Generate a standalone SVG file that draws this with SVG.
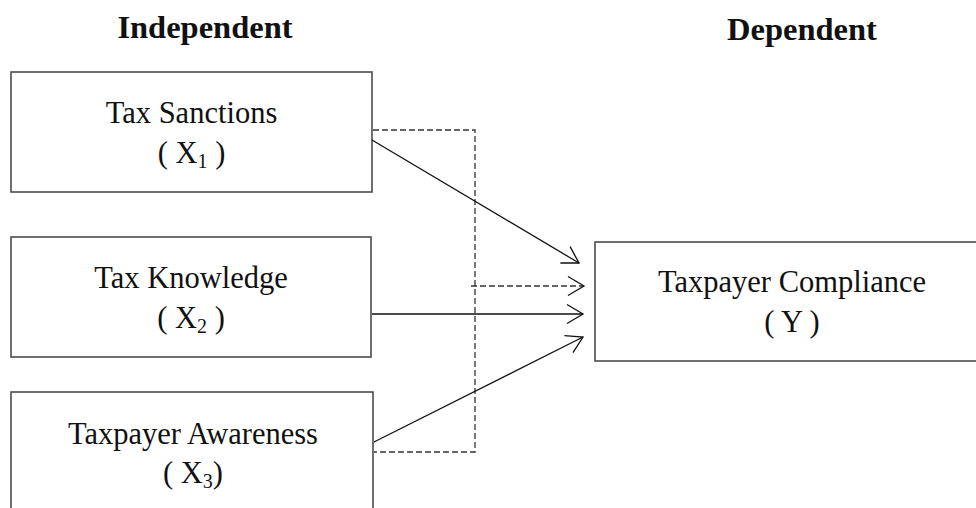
<svg xmlns="http://www.w3.org/2000/svg" width="976" height="508" viewBox="0 0 976 508">
<defs>
<style>
.box{fill:#fff;stroke:#404040;stroke-width:1.5}
.t{font-family:"Liberation Serif","Times New Roman",serif;font-size:30.5px;fill:#111;text-anchor:middle}
.h{font-family:"Liberation Serif","Times New Roman",serif;font-size:32.5px;font-weight:bold;fill:#111;text-anchor:middle}
.sub{font-size:20px}
.ln{fill:none;stroke:#111;stroke-width:1.3}
.dash{fill:none;stroke:#333;stroke-width:1.3;stroke-dasharray:6 3}
</style>
<marker id="arr" markerUnits="userSpaceOnUse" markerWidth="22" markerHeight="24" viewBox="-19 -12 22 24" refX="0" refY="0" orient="auto">
<path d="M-16,-9.5 L0,0 L-16,9.5" fill="none" stroke="#111" stroke-width="1.3"/>
</marker>
</defs>
<rect width="976" height="508" fill="#fff"/>
<text class="h" x="205" y="38">Independent</text>
<text class="h" x="802" y="40">Dependent</text>
<g id="x1">
<rect class="box" x="11" y="72" width="361" height="120"/>
<text class="t" x="191.5" y="123">Tax Sanctions</text>
<text class="t" x="191.5" y="163">( X<tspan class="sub" dy="5">1</tspan><tspan dy="-5"> )</tspan></text>
</g>
<g id="x2">
<rect class="box" x="11" y="237" width="360" height="120"/>
<text class="t" x="191" y="288">Tax Knowledge</text>
<text class="t" x="191" y="328">( X<tspan class="sub" dy="5">2</tspan><tspan dy="-5"> )</tspan></text>
</g>
<g id="x3">
<rect class="box" x="11" y="392" width="362" height="130"/>
<text class="t" x="193" y="444">Taxpayer Awareness</text>
<text class="t" x="193" y="483">( X<tspan class="sub" dy="5">3</tspan><tspan dy="-5">)</tspan></text>
</g>
<g id="y">
<rect class="box" x="595" y="242" width="400" height="119"/>
<text class="t" x="792" y="292">Taxpayer Compliance</text>
<text class="t" x="792" y="332">( Y )</text>
</g>
<g id="connectors">
<polyline class="dash" points="373,130 475,130 475,452 374,452"/>
<line class="dash" x1="471" y1="286" x2="584" y2="286" marker-end="url(#arr)"/>
<line class="ln" x1="372" y1="140" x2="579" y2="263" marker-end="url(#arr)"/>
<line class="ln" x1="372" y1="314" x2="583" y2="314" marker-end="url(#arr)"/>
<line class="ln" x1="374" y1="442" x2="583" y2="337" marker-end="url(#arr)"/>
</g>
</svg>
